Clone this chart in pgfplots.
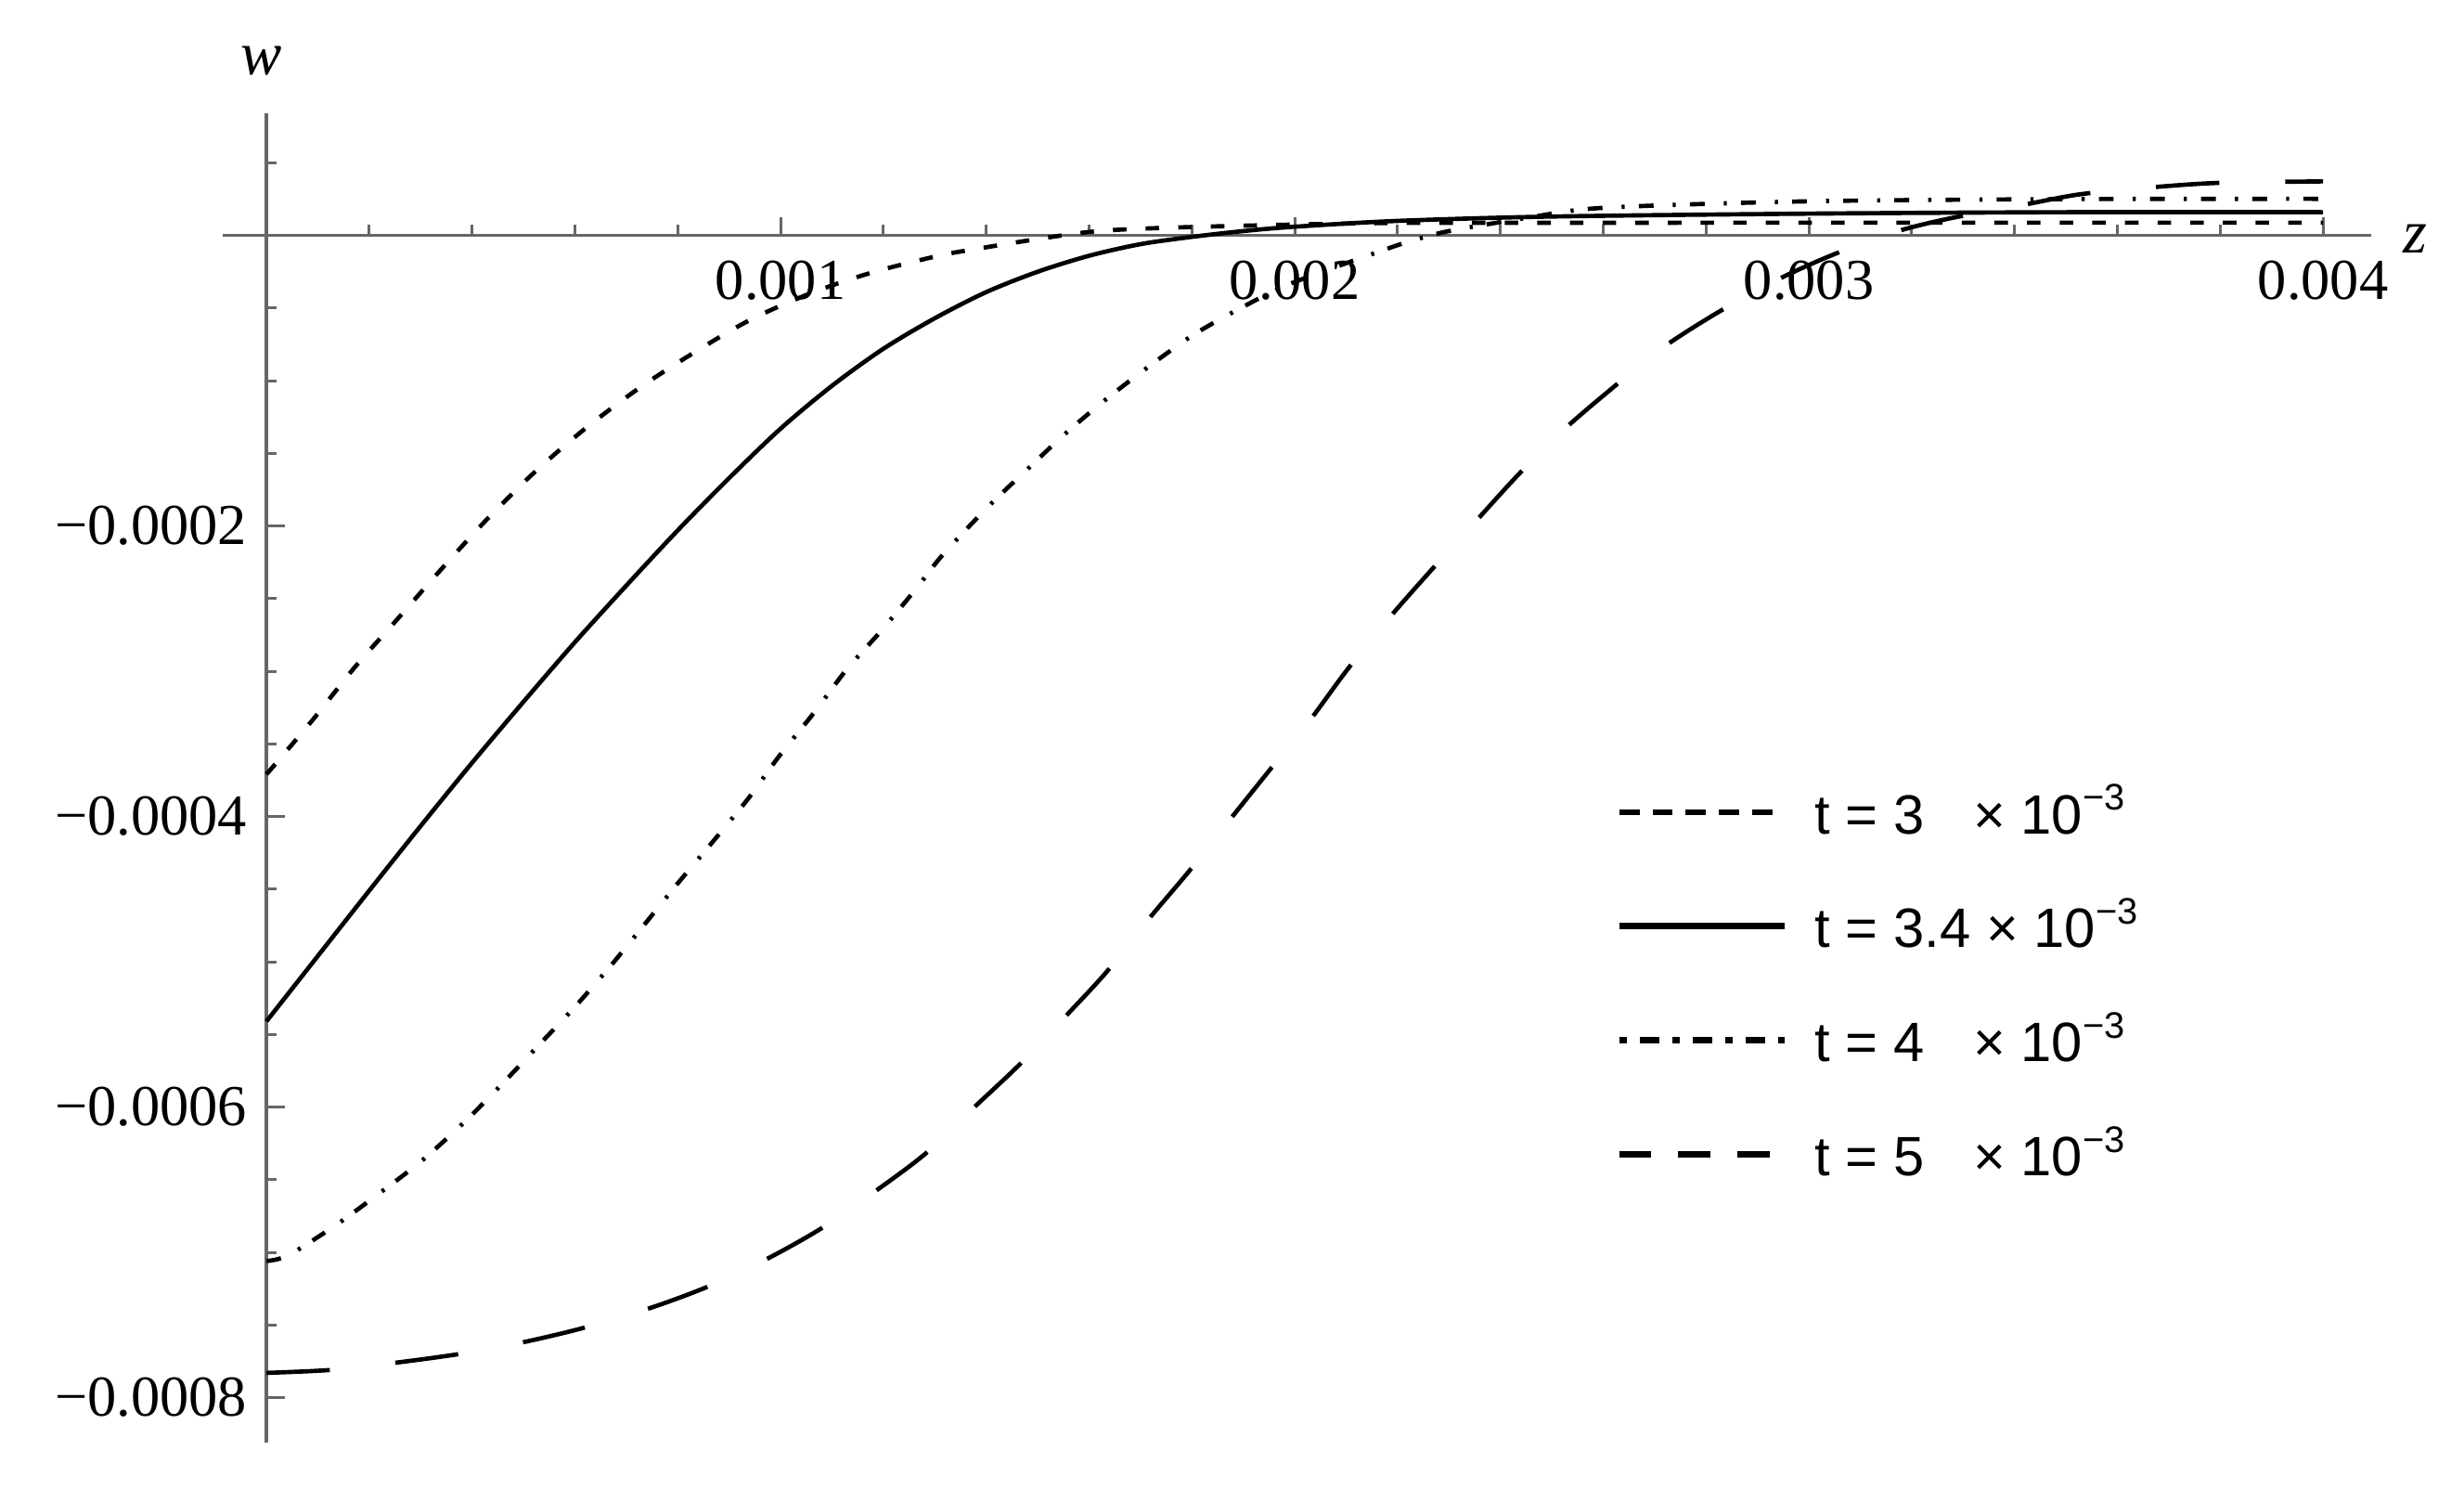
\documentclass[border=0pt]{standalone}
\usepackage{fontspec}
\setmainfont{Liberation Serif}
\setsansfont{Liberation Sans}
\usepackage{pgfplots}
\pgfplotsset{compat=1.18}
\definecolor{axisgray}{RGB}{102,102,102}

\begin{document}
\begin{tikzpicture}
\useasboundingbox (-36.16pt,-7.38pt) rectangle (363.84pt,234.13pt);
\begin{axis}[
  at={(0pt,0pt)}, anchor=south west,
  width=348.8pt, height=215.7pt, scale only axis,
  axis lines=middle,
  axis line style={axisgray, line width=0.5pt, -},
  every inner x axis line/.append style={-},
  every inner y axis line/.append style={-},
  xmin=-0.000085, xmax=0.004094,
  ymin=-0.000831, ymax=0.0000839,
  xtick={0.001,0.002,0.003,0.004},
  xticklabels={0.001,0.002,0.003,0.004},
  minor xtick={0.0002,0.0004,0.0006,0.0008,0.0012,0.0014,0.0016,0.0018,0.0022,0.0024,0.0026,0.0028,0.0032,0.0034,0.0036,0.0038},
  ytick={-0.0008,-0.0006,-0.0004,-0.0002},
  yticklabels={−0.0008,−0.0006,−0.0004,−0.0002},
  minor ytick={0.00005,-0.00005,-0.0001,-0.00015,-0.00025,-0.0003,-0.00035,-0.00045,-0.0005,-0.00055,-0.00065,-0.0007,-0.00075},
  tick align=inside,
  major tick length=3pt, minor tick length=1.7pt,
  tick style={axisgray, line width=0.45pt},
  tick label style={font=\fontsize{9.4}{11}\selectfont, inner sep=0pt},
  xticklabel style={anchor=north, yshift=-3.9pt},
  yticklabel style={anchor=east, xshift=-3pt},
  scaled ticks=false,
  clip=false,
  legend style={draw=none, fill=none, at={(0.6485,0.3457)}, anchor=west,
    font=\sffamily\fontsize{9}{11}\selectfont, inner sep=0pt, outer sep=0pt,
    row sep=11.5pt, column sep=4.5pt,
    nodes={inner sep=0pt, text height=7pt, text depth=0pt}},
  legend cell align=left,
]

% t = 3e-3
\addplot[black, line width=0.7pt, smooth, dash pattern=on 2.2pt off 3.1pt,
  legend image code/.code={\draw[black, line width=1pt, dash pattern=on 3.3pt off 2.1pt] (0pt,0pt) -- (26.8pt,0pt);}]
coordinates {
(0,-3.71e-4) (0.09e-3,-3.335e-4) (0.17e-3,-2.98e-4) (0.256e-3,-2.636e-4)
(0.341e-3,-2.294e-4) (0.426e-3,-1.965e-4) (0.519e-3,-1.638e-4) (0.617e-3,-1.338e-4)
(0.724e-3,-1.053e-4) (0.83e-3,-0.81e-4) (0.941e-3,-0.581e-4) (1.06e-3,-0.396e-4)
(1.179e-3,-0.254e-4) (1.307e-3,-0.14e-4) (1.374e-3,-0.097e-4) (1.498e-3,-0.026e-4)
(1.625e-3,0.032e-4) (1.821e-3,0.06e-4) (2.175e-3,0.085e-4) (2.6e-3,0.087e-4)
(3.0e-3,0.088e-4) (3.5e-3,0.088e-4) (4.0e-3,0.088e-4)
};
\addlegendentry{t = 3\hspace{5.4pt} × 10\textsuperscript{−3}}

% t = 3.4e-3
\addplot[black, line width=0.7pt, smooth,
  legend image code/.code={\draw[black, line width=1pt] (0pt,0pt) -- (26.8pt,0pt);}]
coordinates {
(0,-5.41e-4) (0.1e-3,-4.96e-4) (0.2e-3,-4.51e-4) (0.3e-3,-4.065e-4)
(0.4e-3,-3.63e-4) (0.5e-3,-3.21e-4) (0.6e-3,-2.8e-4) (0.7e-3,-2.41e-4)
(0.8e-3,-2.03e-4) (0.9e-3,-1.67e-4) (1.0e-3,-1.33e-4) (1.1e-3,-1.035e-4)
(1.2e-3,-0.78e-4) (1.3e-3,-0.57e-4) (1.4e-3,-0.39e-4) (1.5e-3,-0.25e-4)
(1.6e-3,-0.14e-4) (1.7e-3,-0.06e-4) (1.8e-3,-0.01e-4) (1.9e-3,0.03e-4)
(2.0e-3,0.06e-4) (2.2e-3,0.1e-4) (2.5e-3,0.13e-4) (3.0e-3,0.15e-4)
(3.5e-3,0.16e-4) (4.0e-3,0.16e-4)
};
\addlegendentry{t = 3.4 × 10\textsuperscript{−3}}

% t = 4e-3
\addplot[black, line width=0.7pt, smooth, dash pattern=on 2.4pt off 3.1pt on 0.5pt off 2.3pt,
  legend image code/.code={\draw[black, line width=1pt, dash pattern=on 1.2pt off 2.1pt on 3.2pt off 2.1pt] (0pt,0pt) -- (26.8pt,0pt);}]
coordinates {
(0,-7.06e-4) (0.043e-3,-7.02e-4) (0.136e-3,-6.81e-4) (0.221e-3,-6.59e-4)
(0.302e-3,-6.37e-4) (0.383e-3,-6.11e-4) (0.456e-3,-5.85e-4) (0.528e-3,-5.58e-4)
(0.6e-3,-5.31e-4) (0.669e-3,-5.03e-4) (0.736e-3,-4.74e-4) (0.801e-3,-4.456e-4)
(0.869e-3,-4.17e-4) (0.937e-3,-3.877e-4) (0.996e-3,-3.59e-4) (1.064e-3,-3.29e-4)
(1.128e-3,-2.99e-4) (1.196e-3,-2.72e-4) (1.264e-3,-2.43e-4) (1.315e-3,-2.2e-4)
(1.404e-3,-1.866e-4) (1.476e-3,-1.623e-4) (1.553e-3,-1.367e-4) (1.634e-3,-1.125e-4)
(1.719e-3,-0.895e-4) (1.804e-3,-0.682e-4) (1.897e-3,-0.496e-4) (1.996e-3,-0.326e-4)
(2.187e-3,-0.083e-4) (2.238e-3,-0.026e-4) (2.3e-3,0.03e-4) (2.45e-3,0.12e-4)
(2.6e-3,0.19e-4) (3.0e-3,0.235e-4) (3.5e-3,0.25e-4) (4.0e-3,0.252e-4)
};
\addlegendentry{t = 4\hspace{5.4pt} × 10\textsuperscript{−3}}

% t = 5e-3
\addplot[black, line width=0.7pt, smooth, dash pattern=on 10.3pt off 10.7pt,
  legend image code/.code={\draw[black, line width=1pt, dash pattern=on 5.2pt off 4.4pt] (0pt,0pt) -- (26.8pt,0pt);}]
coordinates {
(0,-7.83e-4) (0.124e-3,-7.81e-4) (0.251e-3,-7.76e-4) (0.375e-3,-7.7e-4)
(0.498e-3,-7.62e-4) (0.617e-3,-7.52e-4) (0.741e-3,-7.39e-4) (0.856e-3,-7.24e-4)
(0.971e-3,-7.05e-4) (1.077e-3,-6.84e-4) (1.184e-3,-6.58e-4) (1.282e-3,-6.32e-4)
(1.374e-3,-6.01e-4) (1.464e-3,-5.71e-4) (1.553e-3,-5.38e-4) (1.634e-3,-5.07e-4)
(1.715e-3,-4.71e-4) (1.796e-3,-4.37e-4) (1.872e-3,-4.03e-4) (1.949e-3,-3.69e-4)
(2.03e-3,-3.335e-4) (2.102e-3,-2.99e-4) (2.183e-3,-2.636e-4) (2.264e-3,-2.31e-4)
(2.349e-3,-1.98e-4) (2.434e-3,-1.65e-4) (2.523e-3,-1.338e-4) (2.617e-3,-1.053e-4)
(2.716e-3,-0.772e-4) (2.821e-3,-0.534e-4) (2.934e-3,-0.313e-4) (3.044e-3,-0.137e-4)
(3.166e-3,0.022e-4) (3.271e-3,0.115e-4) (3.411e-3,0.206e-4) (3.525e-3,0.282e-4)
(3.656e-3,0.328e-4) (3.778e-3,0.359e-4) (3.9e-3,0.368e-4) (4.0e-3,0.372e-4)
};
\addlegendentry{t = 5\hspace{5.4pt} × 10\textsuperscript{−3}}

\node[font=\fontsize{10}{12}\selectfont\itshape] at (axis cs:-0.000009,0.00012) {w};
\node[font=\fontsize{10}{12}\selectfont\itshape] at (axis cs:0.004179,-0.0000026) {z};
\end{axis}
\end{tikzpicture}
\end{document}
